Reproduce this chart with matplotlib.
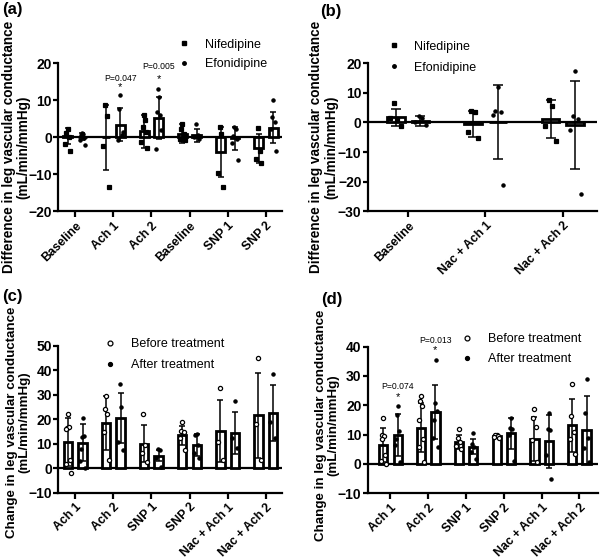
import numpy as np
import matplotlib
matplotlib.use('Agg')
from matplotlib import pyplot as plt
from matplotlib.lines import Line2D

plt.rcParams['font.family'] = ['Liberation Sans', 'DejaVu Sans']

# ---- panel (a) ----
cats_a = ['Baseline', 'Ach 1', 'Ach 2', 'Baseline', 'SNP 1', 'SNP 2']
nif_mean_a = [0.3, 0.0, 1.6, 1.0, -3.9, -2.9]
nif_sd_a = [2.1, 8.8, 4.5, 2.5, 6.7, 3.9]
efo_mean_a = [0.2, 3.4, 5.2, 0.5, -0.3, 2.6]
efo_sd_a = [1.0, 4.5, 5.7, 1.8, 3.2, 4.2]
nif_pts_a = [[2.3, 1.2, 0.1, -1.7, -3.8],
             [8.8, 5.7, -2.4, -13.3],
             [6.1, 4.6, 2.8, 1.4, -1.4, -3.0],
             [3.7, 2.3, 0.9, -0.5, -0.8],
             [2.8, 1.0, -9.5, -13.3],
             [2.4, -3.8, -5.9, -7.0]]
efo_pts_a = [[1.2, 0.9, 0.5, -0.2, -0.8, -2.2],
             [11.4, 7.7, 0.7, -0.8, 1.5],
             [13.1, 10.9, 6.7, 6.1, -3.1, 2.0],
             [3.5, 0.5, 0.0, -0.5],
             [2.9, 2.3, 0.3, -0.6, -1.5, -6.2],
             [10.0, 5.4, 4.1, 2.3, -3.7]]

# ---- panel (b) ----
cats_b = ['Baseline', 'Nac + Ach 1', 'Nac + Ach 2']
nif_mean_b = [1.7, -0.5, 1.2]
nif_sd_b = [2.9, 4.4, 6.3]
efo_mean_b = [0.5, 0.2, -1.0]
efo_sd_b = [1.6, 12.4, 14.8]
nif_pts_b = [[6.7, 1.3, 1.5, -1.1], [3.9, 3.5, -3.1, -5.1], [7.6, 5.4, -1.3, -6.2]]
efo_pts_b = [[2.2, 1.4, 0.0, -1.0], [11.8, 3.9, 3.4, 2.5, -21.2], [17.4, 2.0, 1.2, -2.4, -24.0]]

# ---- panel (c) ----
cats_cd = ['Ach 1', 'Ach 2', 'SNP 1', 'SNP 2', 'Nac + Ach 1', 'Nac + Ach 2']
bef_mean_c = [10.8, 18.5, 10.1, 13.5, 15.3, 21.6]
bef_sd_c = [9.7, 11.0, 7.5, 3.8, 12.8, 17.3]
aft_mean_c = [10.5, 20.5, 5.1, 9.5, 14.5, 22.7]
aft_sd_c = [7.7, 10.2, 2.3, 4.4, 8.7, 11.5]
bef_pts_c = [[22.3, 16.4, 16.8, 15.9, 3.2, 1.9, -1.9],
             [29.5, 24.3, 22.3, 14.9, 3.4],
             [22.3, 9.5, 6.1, 2.7],
             [18.9, 15.1, 14.9, 12.2, 7.4],
             [32.8, 10.8, 3.4],
             [44.9, 18.2, 3.4]]
aft_pts_c = [[20.4, 12.7, 13.0, 7.8, 3.0, 0.0],
             [34.3, 24.9, 10.8, 7.4],
             [7.7, 7.3, 4.1, 0.7],
             [13.9, 13.5, 9.5, 6.1, 4.1],
             [27.3, 12.2, 8.2],
             [38.5, 18.9, 12.2]]

# ---- panel (d) ----
bef_mean_d = [6.5, 12.4, 7.5, 9.4, 8.5, 13.2]
bef_sd_d = [5.9, 8.2, 2.3, 0.4, 7.6, 9.0]
aft_mean_d = [9.9, 17.8, 5.9, 10.4, 7.7, 11.6]
aft_sd_d = [7.2, 9.2, 2.6, 5.4, 9.0, 11.5]
bef_pts_d = [[15.5, 9.8, 9.5, 8.5, 3.0, 1.0, 0.0],
             [23.0, 21.6, 19.8, 15.1, 8.5, 5.6, 0.8],
             [12.0, 9.0, 7.3, 6.0, 5.0],
             [9.9, 9.7, 9.5, 9.2, 8.9],
             [18.6, 15.8, 12.6, 8.0, 0.7],
             [27.2, 16.2, 10.9, 8.6, 3.5]]
aft_pts_d = [[19.6, 16.8, 11.3, 8.5, 6.3, 0.7],
             [35.5, 20.9, 17.9, 14.8, 8.9, 5.6],
             [10.4, 6.8, 5.9, 3.9, 1.7],
             [15.8, 12.4, 11.9, 10.0, 1.0],
             [17.5, 12.0, 11.5, 3.2, -5.0],
             [29.1, 17.5, 8.7, 5.4, 0.8]]


def jitter(n, w):
    # spread points across the bar, alternating sides
    if n == 1:
        return np.zeros(1)
    base = np.linspace(-w, w, n)
    order = np.argsort(np.abs(base), kind='stable')
    return base[order]


def draw_group(ax, x, means, sds, pts, marker, fill, ms, width, cap):
    for i in range(len(means)):
        ax.bar(x[i], means[i], width=width, color='white', edgecolor='black',
               linewidth=2, zorder=2)
        xs = x[i] + jitter(len(pts[i]), width * 0.3)
        ax.plot(xs, pts[i], linestyle='none', marker=marker, ms=ms,
                mfc=fill, mec='black', mew=0.9, zorder=4)
        ax.errorbar(x[i], means[i], yerr=sds[i], fmt='none', ecolor='black',
                    elinewidth=1.1, capsize=cap, capthick=1.1, zorder=3)


def style(ax, cats, ylim, yticks, xlim):
    ax.set_xlim(xlim)
    ax.set_ylim(ylim)
    ax.set_yticks(yticks)
    ax.set_xticks(np.arange(len(cats)))
    ax.set_xticklabels(cats, rotation=45, ha='right', rotation_mode='anchor',
                       fontsize=8.8, fontweight='bold')
    for lab in ax.get_yticklabels():
        lab.set_fontweight('bold')
        lab.set_fontsize(10)
    ax.spines['top'].set_visible(False)
    ax.spines['right'].set_visible(False)
    ax.spines['left'].set_linewidth(1.6)
    ax.spines['bottom'].set_linewidth(1.6)
    ax.tick_params(axis='x', width=1.6, length=4, pad=2)
    ax.tick_params(axis='y', width=1.6, length=3.5, pad=1)
    ax.axhline(0, color='black', lw=1.6, zorder=1)


fig = plt.figure(figsize=(6, 5.58), dpi=100)

# (a)
ax = fig.add_axes([0.097, 0.621, 0.373, 0.266])
x = np.arange(len(cats_a))
draw_group(ax, x - 0.19, nif_mean_a, nif_sd_a, nif_pts_a, 's', 'black', 2.8, 0.23, 2)
draw_group(ax, x + 0.19, efo_mean_a, efo_sd_a, efo_pts_a, 'o', 'black', 2.3, 0.23, 2)
style(ax, cats_a, (-20, 20), [-20, -10, 0, 10, 20], (-0.44, 5.42))
ax.text(1 + 0.19, 13.6, '*', ha='center', va='center', fontsize=8)
ax.text(1 + 0.19, 15.9, 'P=0.047', ha='center', va='center', fontsize=6.2)
ax.text(2 + 0.19, 15.7, '*', ha='center', va='center', fontsize=8)
ax.text(2 + 0.19, 19.0, 'P=0.005', ha='center', va='center', fontsize=6.2, clip_on=False)
ax.set_ylabel('Difference in leg vascular conductance\n(mL/min/mmHg)',
              fontsize=9.8, fontweight='bold', linespacing=1.05)
ax.yaxis.set_label_coords(-0.124, 0.435)
h = [Line2D([], [], ls='none', marker='s', ms=3.5, color='black'),
     Line2D([], [], ls='none', marker='o', ms=2.5, color='black')]
ax.legend(h, ['Nifedipine', 'Efonidipine'], frameon=False, loc='upper left',
          bbox_to_anchor=(0.54, 1.165), fontsize=9, handlelength=0.8,
          handletextpad=1.3, labelspacing=0.6, borderaxespad=0, borderpad=0)

# (b)
ax = fig.add_axes([0.613, 0.621, 0.382, 0.266])
x = np.arange(len(cats_b))
draw_group(ax, x - 0.16, nif_mean_b, nif_sd_b, nif_pts_b, 's', 'black', 2.8, 0.23, 3.5)
draw_group(ax, x + 0.16, efo_mean_b, efo_sd_b, efo_pts_b, 'o', 'black', 2.3, 0.23, 3.5)
style(ax, cats_b, (-30, 20), [-30, -20, -10, 0, 10, 20], (-0.52, 2.44))
ax.set_ylabel('Difference in leg vascular conductance\n(mL/min/mmHg)',
              fontsize=9.8, fontweight='bold', linespacing=1.05)
ax.yaxis.set_label_coords(-0.13, 0.435)
ax.legend(h, ['Nifedipine', 'Efonidipine'], frameon=False, loc='upper left',
          bbox_to_anchor=(0.092, 1.15), fontsize=9, handlelength=0.8,
          handletextpad=1.2, labelspacing=0.7, borderaxespad=0, borderpad=0)

# (c)
ax = fig.add_axes([0.097, 0.117, 0.373, 0.263])
x = np.arange(len(cats_cd))
draw_group(ax, x - 0.19, bef_mean_c, bef_sd_c, bef_pts_c, 'o', 'white', 3.0, 0.22, 2)
draw_group(ax, x + 0.19, aft_mean_c, aft_sd_c, aft_pts_c, 'o', 'black', 2.3, 0.22, 2)
style(ax, cats_cd, (-10, 50), [-10, 0, 10, 20, 30, 40, 50], (-0.45, 5.43))
ax.set_ylabel('Change in leg vascular conductance\n(mL/min/mmHg)',
              fontsize=9.6, fontweight='bold', linespacing=1.05)
ax.yaxis.set_label_coords(-0.124, 0.48)
h2 = [Line2D([], [], ls='none', marker='o', ms=3.5, mfc='white', mec='black', mew=0.9),
      Line2D([], [], ls='none', marker='o', ms=2.8, color='black')]
ax.legend(h2, ['Before treatment', 'After treatment'], frameon=False, loc='upper left',
          bbox_to_anchor=(0.21, 1.055), fontsize=9, handlelength=0.8,
          handletextpad=1.3, labelspacing=0.75, borderaxespad=0, borderpad=0)

# (d)
ax = fig.add_axes([0.613, 0.116, 0.383, 0.263])
draw_group(ax, x - 0.19, bef_mean_d, bef_sd_d, bef_pts_d, 'o', 'white', 3.0, 0.22, 2)
draw_group(ax, x + 0.19, aft_mean_d, aft_sd_d, aft_pts_d, 'o', 'black', 2.3, 0.22, 2)
style(ax, cats_cd, (-10, 40), [-10, 0, 10, 20, 30, 40], (-0.6, 5.48))
ax.text(0 + 0.19, 22.9, '*', ha='center', va='center', fontsize=8)
ax.text(0 + 0.19, 26.5, 'P=0.074', ha='center', va='center', fontsize=6.2)
ax.text(1 + 0.19, 38.7, '*', ha='center', va='center', fontsize=8)
ax.text(1 + 0.19, 42.0, 'P=0.013', ha='center', va='center', fontsize=6.2, clip_on=False)
ax.set_ylabel('Change in leg vascular conductance\n(mL/min/mmHg)',
              fontsize=9.6, fontweight='bold', linespacing=1.05)
ax.yaxis.set_label_coords(-0.124, 0.465)
ax.legend(h2, ['Before treatment', 'After treatment'], frameon=False, loc='upper left',
          bbox_to_anchor=(0.41, 1.09), fontsize=9, handlelength=0.8,
          handletextpad=1.3, labelspacing=0.65, borderaxespad=0, borderpad=0)

fig.text(0.003, 0.997, '(a)', fontsize=12, fontweight='bold', va='top')
fig.text(0.533, 0.993, '(b)', fontsize=12, fontweight='bold', va='top')
fig.text(0.003, 0.482, '(c)', fontsize=12, fontweight='bold', va='top')
fig.text(0.536, 0.477, '(d)', fontsize=12, fontweight='bold', va='top')

fig.savefig('out.png', dpi=100)
